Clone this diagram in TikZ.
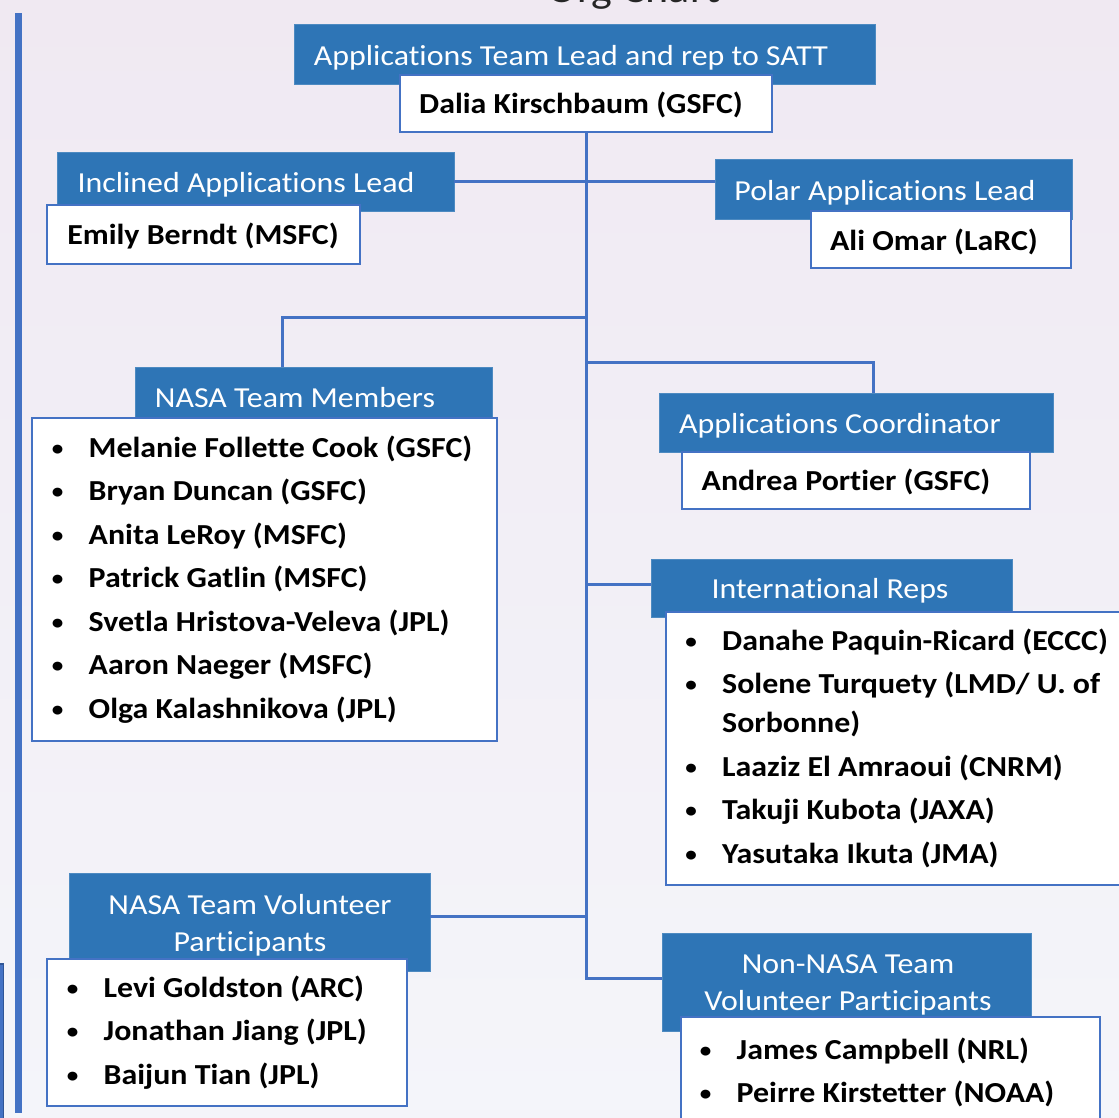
\documentclass[tikz,border=0pt]{standalone}
\usepackage{fontspec}
\setmainfont{Carlito}[FakeStretch=1.1, Ligatures=NoCommon]
\usepackage{array}
\usepackage{xcolor}
\usepackage{tikz}
\definecolor{hdrblue}{RGB}{46,117,182}
\definecolor{lineblue}{RGB}{68,114,196}
\definecolor{edgeblue}{RGB}{47,85,151}
\definecolor{bgtop}{RGB}{240,233,242}
\definecolor{bgbot}{RGB}{244,245,250}
\tikzstyle{hdr} = [rectangle, fill=hdrblue, draw=hdrblue!85!white, line width=0.8pt, inner sep=0pt]
\tikzstyle{namebox} = [rectangle, fill=white, draw=lineblue, line width=1.5pt, inner sep=0pt]
\tikzstyle{hdrtext} = [text=white, font=\fontsize{29}{37}\selectfont, inner sep=0pt, anchor=base, align=center]
\tikzstyle{nametext} = [font=\bfseries\fontsize{29}{43.5}\selectfont, inner sep=0pt, anchor=base]
\tikzstyle{listtext} = [font=\bfseries\fontsize{29}{43.5}\selectfont, inner sep=0pt, anchor=base west]
\tikzstyle{link} = [draw=lineblue, line width=3pt]
\newcommand{\listdot}{\raisebox{2pt}{\fontsize{21}{21}\selectfont\textbullet}}
\newcolumntype{B}{@{}>{\makebox[0pt]{\listdot}\hspace{31pt}}l@{}}
\newcommand{\wrapline}[1]{\multicolumn{1}{@{\hspace{31pt}}l@{}}{#1}}

\begin{document}
\begin{tikzpicture}[x=1pt,y=-1pt]
\useasboundingbox (0,0) rectangle (1119,1117);
\clip (0,0) rectangle (1119,1117);
\shade [top color=bgtop, bottom color=bgbot] (0,0) rectangle (1119,1117);

% slide frame bits on the left
\fill [lineblue] (15,13) rectangle (22,1113);
\draw [edgeblue, fill=lineblue, line width=1.5pt] (-10,964) rectangle (3.5,1130);

\node [anchor=base, font=\fontsize{40}{48}\selectfont, text=black!85] (title) at (634,2) {Org Chart};

% team lead
\node [hdr, minimum width=581pt, minimum height=60pt] (leadH) at (584.5,54) {};
\node [namebox, minimum width=372pt, minimum height=57pt] (leadN) at (586,103.5) {};
\node [hdrtext] (leadT) at (571,65) {Applications Team Lead and rep to SATT};
\node [nametext] (leadP) at (581,113) {Dalia Kirschbaum (GSFC)};

% inclined / polar leads
\node [hdr, minimum width=397pt, minimum height=59pt] (incH) at (255.5,181.5) {};
\node [namebox, minimum width=313pt, minimum height=59pt] (incN) at (203.5,234.5) {};
\node [hdrtext] (incT) at (246,192) {Inclined Applications Lead};
\node [nametext] (incP) at (203,244) {Emily Berndt (MSFC)};

\node [hdr, minimum width=357pt, minimum height=60pt] (polH) at (893.5,189) {};
\node [namebox, minimum width=260pt, minimum height=57pt] (polN) at (941,239.5) {};
\node [hdrtext] (polT) at (885,200) {Polar Applications Lead};
\node [nametext] (polP) at (934,250) {Ali Omar (LaRC)};

% NASA team members
\node [hdr, minimum width=357pt, minimum height=51pt] (tmH) at (313.5,392.5) {};
\node [namebox, minimum width=465pt, minimum height=323pt] (tmN) at (264.5,579.5) {};
\node [hdrtext] (tmT) at (295,407) {NASA Team Members};
\node [listtext] (tmL) at (57.5,457) {\begin{tabular}[t]{B}
Melanie Follette Cook (GSFC)\\
Bryan Duncan (GSFC)\\
Anita LeRoy (MSFC)\\
Patrick Gatlin (MSFC)\\
Svetla Hristova-Veleva (JPL)\\
Aaron Naeger (MSFC)\\
Olga Kalashnikova (JPL)
\end{tabular}};

% applications coordinator
\node [hdr, minimum width=394pt, minimum height=59pt] (acH) at (856,422.5) {};
\node [namebox, minimum width=348pt, minimum height=57pt] (acN) at (856,480.5) {};
\node [hdrtext] (acT) at (840,433) {Applications Coordinator};
\node [nametext] (acP) at (846,490) {Andrea Portier (GSFC)};

% international reps
\node [hdr, minimum width=361pt, minimum height=58pt] (irH) at (831.5,588) {};
\node [namebox, minimum width=469pt, minimum height=273pt] (irN) at (900.5,748.5) {};
\node [hdrtext] (irT) at (830,598) {International Reps};
\node [listtext] (irL) at (691,650) {\begin{tabular}[t]{B}
Danahe Paquin-Ricard (ECCC)\\
Solene Turquety (LMD/ U. of\\[-4.5pt]
\wrapline{Sorbonne)}\\
Laaziz El Amraoui (CNRM)\\
Takuji Kubota (JAXA)\\
Yasutaka Ikuta (JMA)
\end{tabular}};

% NASA volunteers
\node [hdr, minimum width=361pt, minimum height=98pt] (ntH) at (249.5,922) {};
\node [namebox, minimum width=360pt, minimum height=147pt] (ntN) at (227,1032.5) {};
\node [hdrtext] (ntT) at (250,951) {NASA Team Volunteer\\Participants};
\node [listtext] (ntL) at (72.5,997) {\begin{tabular}[t]{B}
Levi Goldston (ARC)\\
Jonathan Jiang (JPL)\\
Baijun Tian (JPL)
\end{tabular}};

% non-NASA volunteers
\node [hdr, minimum width=369pt, minimum height=98pt] (nnH) at (846.5,982) {};
\node [namebox, minimum width=419pt, minimum height=118pt] (nnN) at (890.5,1076) {};
\node [hdrtext] (nnT) at (848,1010) {Non-NASA Team\\Volunteer Participants};
\node [listtext] (nnL) at (705.5,1059) {\begin{tabular}[t]{B}
James Campbell (NRL)\\
Peirre Kirstetter (NOAA)
\end{tabular}};

% connectors
\coordinate (trunkEnd) at (586,978);
\coordinate (tmFork) at (586,317);
\coordinate (tmDrop) at (282,317);
\coordinate (acFork) at (586,362);
\coordinate (acDrop) at (873,362);
\coordinate (irFork) at (586,584);
\coordinate (ntFork) at (586,916);
\draw [link] (leadN.south) -- (trunkEnd) -- (trunkEnd -| nnH.west);
\draw [link] (incH.east) -- (incH.east -| polH.west);
\draw [link] (tmFork) -- (tmDrop) -- (tmDrop |- tmH.north);
\draw [link] (acFork) -- (acDrop) -- (acDrop |- acH.north);
\draw [link] (irFork) -- (irFork -| irH.west);
\draw [link] (ntFork) -- (ntFork -| ntH.east);
\end{tikzpicture}
\end{document}
